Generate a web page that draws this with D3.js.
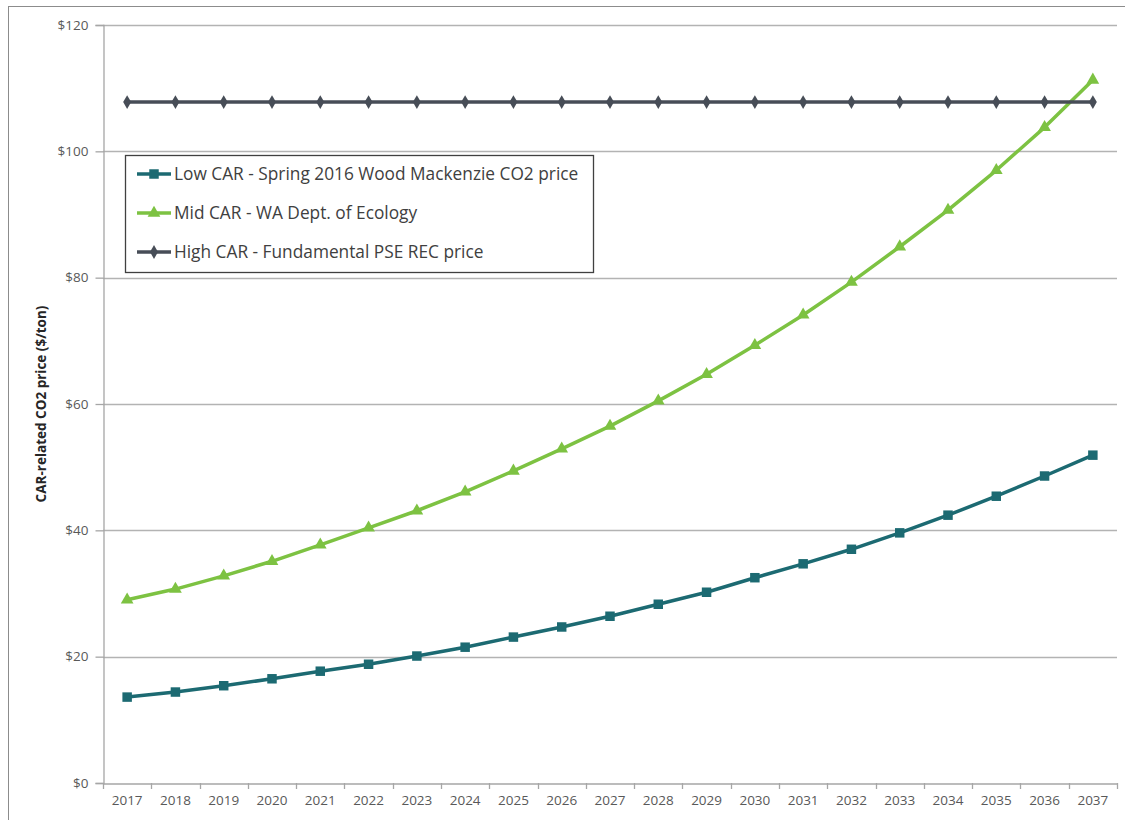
<!DOCTYPE html>
<html><head><meta charset="utf-8">
<script src="https://cdn.jsdelivr.net/npm/d3@7"></script>
<style>body{margin:0;background:#fff}svg{display:block}</style>
</head><body>
<svg id="c" width="1125" height="820"></svg>
<script>
const years = ["2017","2018","2019","2020","2021","2022","2023","2024","2025","2026","2027","2028","2029","2030","2031","2032","2033","2034","2035","2036","2037"];
const lowCAR = [13.6,14.4,15.4,16.5,17.7,18.8,20.1,21.5,23.1,24.7,26.4,28.3,30.2,32.5,34.7,37.0,39.6,42.4,45.4,48.6,51.9];
const midCAR = [29.0,30.7,32.8,35.1,37.7,40.4,43.1,46.1,49.4,52.9,56.5,60.5,64.7,69.3,74.1,79.3,84.9,90.7,97.0,103.8,111.3];
const highCAR = [107.8,107.8,107.8,107.8,107.8,107.8,107.8,107.8,107.8,107.8,107.8,107.8,107.8,107.8,107.8,107.8,107.8,107.8,107.8,107.8,107.8];
const yTicks = [0,20,40,60,80,100,120];
const seriesNames = ["Low CAR - Spring 2016 Wood Mackenzie CO2 price","Mid CAR - WA Dept. of Ecology","High CAR - Fundamental PSE REC price"];
const yTitle = "CAR-related CO2 price ($/ton)";

const series = [
  {name: seriesNames[0], values: lowCAR, color: "#1c6a72", marker: "square"},
  {name: seriesNames[1], values: midCAR, color: "#7dc242", marker: "triangle"},
  {name: seriesNames[2], values: highCAR, color: "#474d57", marker: "diamond"}
];

const svg = d3.select("#c");
const font = "'Open Sans', Lato, sans-serif";
const L = 103, R = 1117, T = 25, B = 783;

svg.append("rect").attr("x", 8.5).attr("y", 6.5).attr("width", 1200).attr("height", 900)
  .attr("fill", "none").attr("stroke", "#8c8c8c").attr("stroke-width", 1);

const x = d3.scaleBand().domain(years).range([L, R]);
const y = d3.scaleLinear().domain([0, 120]).range([B, T]);

// gridlines
svg.append("g").selectAll("line").data(yTicks.filter(d => d > 0)).join("line")
  .attr("x1", L).attr("x2", R).attr("y1", d => Math.round(y(d)) + 0.5).attr("y2", d => Math.round(y(d)) + 0.5)
  .attr("stroke", "#b3b3b3").attr("stroke-width", 1.3);

// y axis
const yAxis = svg.append("g").attr("transform", `translate(${L + 0.5},0)`)
  .call(d3.axisLeft(y).tickValues(yTicks).tickSize(8).tickPadding(7).tickFormat(d => "$" + d));
yAxis.select(".domain").attr("stroke", "#a6a6a6").attr("stroke-width", 1.3);
yAxis.selectAll(".tick line").attr("stroke", "#a6a6a6").attr("stroke-width", 1.3);
yAxis.selectAll(".tick text").attr("font-family", font).attr("font-size", 13.5).attr("fill", "#595959");

// x axis
const xAxis = svg.append("g").attr("transform", `translate(0,${B + 0.5})`)
  .call(d3.axisBottom(x).tickSize(0).tickPadding(12));
xAxis.select(".domain").attr("stroke", "#a6a6a6").attr("stroke-width", 1.3);
xAxis.selectAll(".tick text").attr("font-family", font).attr("font-size", 13.5).attr("fill", "#595959");
// boundary ticks
const bounds = years.map(d => x(d)).concat([x(years[years.length - 1]) + x.bandwidth()]);
svg.append("g").selectAll("line").data(bounds).join("line")
  .attr("x1", d => Math.round(d) + 0.5).attr("x2", d => Math.round(d) + 0.5)
  .attr("y1", B).attr("y2", B + 6).attr("stroke", "#a6a6a6").attr("stroke-width", 1.3);

// y title
svg.append("text").attr("transform", `translate(46,${(T + B) / 2}) rotate(-90)`)
  .attr("text-anchor", "middle").attr("font-family", font).attr("font-size", 13.5)
  .attr("font-weight", "bold").attr("fill", "#262626").text(yTitle);

const cx = (d, i) => x(years[i]) + x.bandwidth() / 2;
const sym = {
  square: d3.symbol().type(d3.symbolSquare).size(90),
  triangle: d3.symbol().type(d3.symbolTriangle).size(70),
  diamond: d3.symbol().type(d3.symbolDiamond).size(55)
};

const line = d3.line().x(cx).y(d => y(d));
series.forEach(s => {
  const g = svg.append("g");
  g.append("path").datum(s.values).attr("d", line).attr("fill", "none")
    .attr("stroke", s.color).attr("stroke-width", 3.5).attr("stroke-linejoin", "round");
  g.selectAll("path.m").data(s.values).join("path").attr("class", "m")
    .attr("transform", (d, i) => `translate(${cx(d, i)},${y(d)})`)
    .attr("d", sym[s.marker]()).attr("fill", s.color);
});

// legend
const lg = svg.append("g");
lg.append("rect").attr("x", 125.5).attr("y", 155.5).attr("width", 468).attr("height", 117)
  .attr("fill", "#fff").attr("stroke", "#404040").attr("stroke-width", 1.3);
series.forEach((s, i) => {
  const yy = 174 + i * 39;
  lg.append("line").attr("x1", 137).attr("x2", 171).attr("y1", yy).attr("y2", yy)
    .attr("stroke", s.color).attr("stroke-width", 3.5);
  lg.append("path").attr("transform", `translate(154,${yy})`).attr("d", sym[s.marker]()).attr("fill", s.color);
  lg.append("text").attr("x", 174).attr("y", yy).attr("dy", "0.35em")
    .attr("font-family", font).attr("font-size", 17.3).attr("fill", "#404040").text(s.name);
});
</script>
</body></html>
